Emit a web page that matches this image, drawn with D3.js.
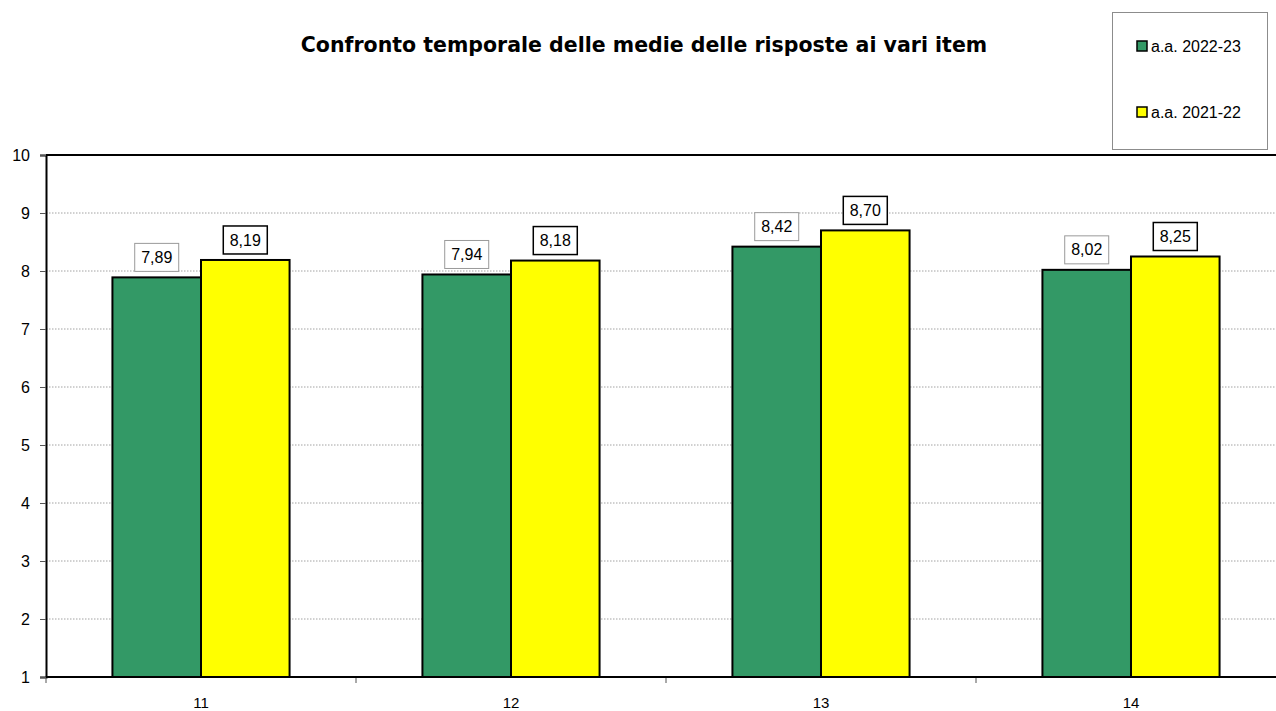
<!DOCTYPE html>
<html><head><meta charset="utf-8">
<script src="https://cdn.jsdelivr.net/npm/d3@7"></script>
<style>body{margin:0;background:#fff}svg{display:block}</style>
</head><body>
<svg id="c" width="1276" height="711"></svg>
<script>
const categories = ["11", "12", "13", "14"];
const seriesNames = ["a.a. 2022-23", "a.a. 2021-22"];
const values2223 = [7.89, 7.94, 8.42, 8.02];
const values2122 = [8.19, 8.18, 8.70, 8.25];
const yTicks = [1, 2, 3, 4, 5, 6, 7, 8, 9, 10];
const colors = ["#339966", "#FFFF00"];
const labelBorders = ["#9a9a9a", "#000000"];
const title = "Confronto temporale delle medie delle risposte ai vari item";

(function () {
const svg = d3.select("#c");
const font = "'Liberation Sans', Arial, sans-serif";
const pLeft = 46, pRight = 1286, pTop = 155, pBottom = 677;

const x = d3.scaleBand().domain(categories).range([pLeft, pRight]).paddingInner(0.4286).paddingOuter(0.2143);
const xs = d3.scaleBand().domain([0, 1]).range([0, x.bandwidth()]);
const y = d3.scaleLinear().domain([1, 10]).range([pBottom, pTop]);

svg.append("g").selectAll("line").data(yTicks.filter(d => d > 1 && d < 10)).join("line")
  .attr("x1", pLeft).attr("x2", 1276).attr("y1", d => y(d)).attr("y2", d => y(d))
  .attr("stroke", "#8c8c8c").attr("stroke-width", 0.8).attr("stroke-dasharray", "1.5,1.5");

svg.append("line").attr("x1", pLeft).attr("x2", 1276).attr("y1", pTop).attr("y2", pTop)
  .attr("stroke", "#000").attr("stroke-width", 2);

const yAxis = d3.axisLeft(y).tickValues(yTicks).tickSize(6).tickPadding(10).tickFormat(d3.format("d"));
const gy = svg.append("g").attr("transform", `translate(${pLeft},0)`).call(yAxis);
gy.select(".domain").attr("stroke", "#000").attr("stroke-width", 2);
gy.selectAll(".tick line").attr("stroke", "#555");
gy.selectAll("text").attr("font-family", font).attr("font-size", 16).attr("fill", "#000");

const data = categories.map((c, i) => ({ c, v: [values2223[i], values2122[i]] }));
const groups = svg.append("g").selectAll("g").data(data).join("g")
  .attr("transform", d => `translate(${x(d.c)},0)`);
groups.selectAll("rect").data(d => d.v.map((v, s) => ({ v, s }))).join("rect")
  .attr("x", d => xs(d.s)).attr("width", xs.bandwidth())
  .attr("y", d => y(d.v)).attr("height", d => y(1) - y(d.v))
  .attr("fill", d => colors[d.s]).attr("stroke", "#000").attr("stroke-width", 2);

const xb = d3.scaleLinear().domain([0, categories.length]).range([pLeft, pRight]);
svg.append("g").selectAll("line").data(d3.range(0, categories.length + 1)).join("line")
  .attr("x1", d => xb(d)).attr("x2", d => xb(d)).attr("y1", pBottom).attr("y2", pBottom + 6)
  .attr("stroke", "#555").attr("stroke-width", 1);
svg.append("line").attr("x1", pLeft).attr("x2", 1276).attr("y1", pBottom).attr("y2", pBottom)
  .attr("stroke", "#000").attr("stroke-width", 2);
svg.append("g").selectAll("text").data(categories).join("text")
  .attr("x", d => x(d) + x.bandwidth() / 2).attr("y", 708)
  .attr("text-anchor", "middle").attr("font-family", font).attr("font-size", 15).text(d => d);

const lab = groups.selectAll("g.lab").data(d => d.v.map((v, s) => ({ v, s }))).join("g").attr("class", "lab")
  .attr("transform", d => `translate(${xs(d.s) + xs.bandwidth() / 2},${y(d.v) - 20})`);
lab.append("rect").attr("x", -22).attr("y", -14).attr("width", 44).attr("height", 28)
  .attr("fill", "#fff").attr("stroke", d => labelBorders[d.s]).attr("stroke-width", d => d.s ? 1.5 : 1);
lab.append("text").attr("text-anchor", "middle").attr("dy", "0.35em")
  .attr("font-family", font).attr("font-size", 16)
  .text(d => d.v.toFixed(2).replace(".", ","));

svg.append("text").attr("x", 644).attr("y", 52).attr("text-anchor", "middle")
  .attr("font-family", "'DejaVu Sans', sans-serif").attr("font-weight", "bold").attr("font-size", 20.5)
  .text(title);

svg.append("rect").attr("x", 1112.5).attr("y", 12.5).attr("width", 155).attr("height", 137)
  .attr("fill", "#fff").attr("stroke", "#8c8c8c").attr("stroke-width", 1);
const lg = svg.append("g").selectAll("g").data(seriesNames).join("g")
  .attr("transform", (d, i) => `translate(1137,${41 + i * 66})`);
lg.append("rect").attr("width", 10).attr("height", 10)
  .attr("fill", (d, i) => colors[i]).attr("stroke", "#000").attr("stroke-width", 1.5);
lg.append("text").attr("x", 14).attr("y", 5).attr("dy", "0.35em")
  .attr("font-family", font).attr("font-size", 16).text(d => d);
})();
</script>
</body></html>
